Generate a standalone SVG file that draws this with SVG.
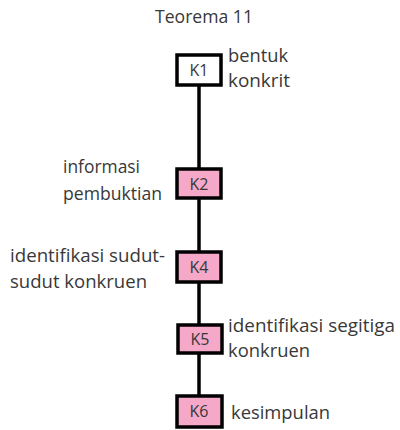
<svg xmlns="http://www.w3.org/2000/svg" width="400" height="430" viewBox="0 0 400 430">
  <style>
    text { font-family: "Open Sans", Lato, sans-serif; font-size: 17.5px; fill: #383838; }
    .k { text-anchor: middle; font-size: 16px; }
    .box { stroke: #000; stroke-width: 3.5; }
    .conn line { stroke: #000; stroke-width: 3.5; }
  </style>
  <rect width="400" height="430" fill="#fff"/>
  <text x="155" y="23" textLength="98" lengthAdjust="spacingAndGlyphs">Teorema 11</text>

  <g class="conn">
    <line x1="199" y1="86" x2="199" y2="168"/>
    <line x1="199" y1="198" x2="199" y2="251"/>
    <line x1="199" y1="283" x2="199" y2="324"/>
    <line x1="199" y1="354" x2="199" y2="395"/>
  </g>

  <g id="K1">
    <rect class="box" x="177" y="55" width="44" height="30" fill="#fff"/>
    <text x="199" y="76" class="k">K1</text>
    <text x="228" y="62" textLength="60" lengthAdjust="spacingAndGlyphs">bentuk</text>
    <text x="228" y="87" textLength="62" lengthAdjust="spacingAndGlyphs">konkrit</text>
  </g>
  <g id="K2">
    <rect class="box" x="177" y="169" width="44" height="29" fill="#f5a8c8"/>
    <text x="199" y="190" class="k">K2</text>
    <text x="63" y="173" textLength="77" lengthAdjust="spacingAndGlyphs">informasi</text>
    <text x="63" y="200" textLength="99" lengthAdjust="spacingAndGlyphs">pembuktian</text>
  </g>
  <g id="K4">
    <rect class="box" x="177" y="252" width="44" height="30" fill="#f5a8c8"/>
    <text x="199" y="273" class="k">K4</text>
    <text x="10" y="262" textLength="155" lengthAdjust="spacingAndGlyphs">identifikasi sudut-</text>
    <text x="10" y="288" textLength="137" lengthAdjust="spacingAndGlyphs">sudut konkruen</text>
  </g>
  <g id="K5">
    <rect class="box" x="178" y="325" width="44" height="28" fill="#f5a8c8"/>
    <text x="200" y="345" class="k">K5</text>
    <text x="228" y="332" textLength="167" lengthAdjust="spacingAndGlyphs">identifikasi segitiga</text>
    <text x="228" y="357" textLength="82" lengthAdjust="spacingAndGlyphs">konkruen</text>
  </g>
  <g id="K6">
    <rect class="box" x="177" y="396" width="45" height="31" fill="#f5a8c8"/>
    <text x="199" y="417" class="k">K6</text>
    <text x="231" y="419" textLength="99" lengthAdjust="spacingAndGlyphs">kesimpulan</text>
  </g>
</svg>
